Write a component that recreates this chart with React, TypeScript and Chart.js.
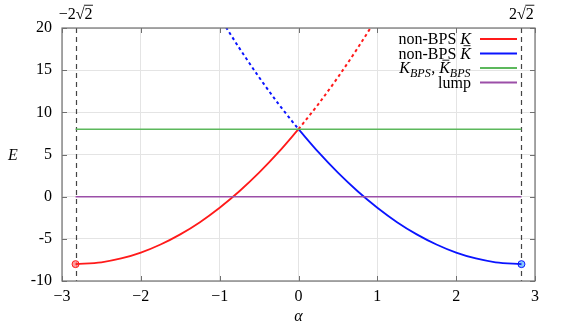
import React, { useEffect, useRef } from "react";
import { Chart, registerables } from "chart.js";

Chart.register(...registerables);

// ---- data ----
const redSolidAlpha = [-2.828, -2.5, -2.25, -2, -1.75, -1.5, -1.25, -1, -0.75, -0.5, -0.25, 0];
const redSolidE = [-8.0, -7.78, -7.33, -6.63, -5.67, -4.47, -3.02, -1.31, 0.64, 2.84, 5.3, 8.0];
const redDashAlpha = [0, 0.25, 0.5, 0.75, 0.92];
const redDashE = [8.0, 10.95, 14.16, 17.61, 20.1];
const blueSolidAlpha = [0, 0.25, 0.5, 0.75, 1, 1.25, 1.5, 1.75, 2, 2.25, 2.5, 2.828];
const blueSolidE = [8.0, 5.3, 2.84, 0.64, -1.31, -3.02, -4.47, -5.67, -6.63, -7.33, -7.78, -8.0];
const blueDashAlpha = [-0.92, -0.75, -0.5, -0.25, 0];
const blueDashE = [20.1, 17.61, 14.16, 10.95, 8.0];
const flatAlpha = [-2.828, 2.828];
const bpsE = [8, 8];
const lumpE = [0, 0];
const endPointsAlpha = [-2.828, 2.828];
const endPointsE = [-8, -8];
const markerAlpha = [-2.828, 2.828];
const xTickValues = [-3, -2, -1, 0, 1, 2, 3];
const yTickValues = [-10, -5, 0, 5, 10, 15, 20];

const RED = "#ff1a1a";
const BLUE = "#0a14ff";
const GREEN = "#5cb85c";
const PURPLE = "#9b4fa8";
const FONT = "'Liberation Serif', 'DejaVu Serif', serif";
const FS = 16;

const pts = (xs: number[], ys: number[]) => xs.map((x, i) => ({ x, y: ys[i] }));

type Seg = { t: string; it?: boolean; sub?: boolean; bar?: boolean };

function segFont(s: Seg, size: number) {
  const sz = s.sub ? size * 0.75 : size;
  return `${s.it ? "italic " : ""}${sz}px ${FONT}`;
}

function drawSegsRight(ctx: CanvasRenderingContext2D, segs: Seg[], rightX: number, baseline: number, size: number) {
  let total = 0;
  const widths = segs.map((s) => {
    ctx.font = segFont(s, size);
    const w = ctx.measureText(s.t).width + (s.sub ? 0.5 : 0);
    total += w;
    return w;
  });
  let x = rightX - total;
  segs.forEach((s, i) => {
    ctx.font = segFont(s, size);
    const by = s.sub ? baseline + size * 0.22 : baseline;
    ctx.fillText(s.t, x, by);
    if (s.bar) {
      ctx.beginPath();
      ctx.lineWidth = 0.9;
      ctx.moveTo(x + widths[i] * 0.3, baseline - size * 0.8);
      ctx.lineTo(x + widths[i] * 0.95, baseline - size * 0.8);
      ctx.stroke();
    }
    x += widths[i];
  });
}

function drawRadical(ctx: CanvasRenderingContext2D, prefix: string, cx: number, baseline: number, size: number) {
  ctx.font = `${size}px ${FONT}`;
  const wp = ctx.measureText(prefix).width;
  const ws = ctx.measureText("\u221A").width;
  const wr = ctx.measureText("2").width;
  const total = wp + ws + wr;
  let x = cx - total / 2;
  ctx.textAlign = "left";
  ctx.fillText(prefix, x, baseline);
  x += wp;
  ctx.fillText("\u221A", x, baseline);
  const topY = baseline - size * 0.86;
  ctx.beginPath();
  ctx.lineWidth = 0.9;
  ctx.moveTo(x + ws - 0.5, topY);
  ctx.lineTo(x + ws + wr + 0.5, topY);
  ctx.stroke();
  x += ws;
  ctx.fillText("2", x, baseline);
}

const legendRows: { segs: Seg[]; color: string }[] = [
  { segs: [{ t: "non-BPS " }, { t: "K", it: true }], color: RED },
  { segs: [{ t: "non-BPS " }, { t: "K", it: true, bar: true }], color: BLUE },
  {
    segs: [
      { t: "K", it: true },
      { t: "BPS", it: true, sub: true },
      { t: ", " },
      { t: "K", it: true, bar: true },
      { t: "BPS", it: true, sub: true },
    ],
    color: GREEN,
  },
  { segs: [{ t: "lump" }], color: PURPLE },
];

const decorPlugin = {
  id: "decor",
  beforeDatasetsDraw(chart: any) {
    const { ctx, chartArea, scales } = chart;
    ctx.save();
    ctx.strokeStyle = "#444";
    ctx.lineWidth = 1.2;
    ctx.setLineDash([5, 4]);
    markerAlpha.forEach((a) => {
      const px = Math.round(scales.x.getPixelForValue(a)) + 0.5;
      ctx.beginPath();
      ctx.moveTo(px, chartArea.top);
      ctx.lineTo(px, chartArea.bottom);
      ctx.stroke();
    });
    ctx.restore();
  },
  afterDraw(chart: any) {
    const { ctx, chartArea, scales } = chart;
    const { left, right, top, bottom } = chartArea;
    ctx.save();
    // frame
    ctx.strokeStyle = "#707070";
    ctx.lineWidth = 1.2;
    ctx.strokeRect(left, top, right - left, bottom - top);
    // inward ticks
    ctx.lineWidth = 1;
    xTickValues.forEach((v) => {
      const px = Math.round(scales.x.getPixelForValue(v)) + 0.5;
      ctx.beginPath();
      ctx.moveTo(px, bottom);
      ctx.lineTo(px, bottom - 5);
      ctx.moveTo(px, top);
      ctx.lineTo(px, top + 5);
      ctx.stroke();
    });
    yTickValues.forEach((v) => {
      const py = Math.round(scales.y.getPixelForValue(v)) + 0.5;
      ctx.beginPath();
      ctx.moveTo(left, py);
      ctx.lineTo(left + 5, py);
      ctx.moveTo(right, py);
      ctx.lineTo(right - 5, py);
      ctx.stroke();
    });
    // top labels
    ctx.fillStyle = "#000";
    ctx.strokeStyle = "#000";
    ctx.textBaseline = "alphabetic";
    drawRadical(ctx, "\u22122", scales.x.getPixelForValue(markerAlpha[0]), 19, FS);
    drawRadical(ctx, "2", scales.x.getPixelForValue(markerAlpha[1]), 19, FS);
    // axis titles
    ctx.font = `italic ${FS}px ${FONT}`;
    ctx.textAlign = "center";
    ctx.fillText("\u03B1", (left + right) / 2, 321);
    ctx.fillText("E", 13, (top + bottom) / 2 + 5);
    // legend
    ctx.textAlign = "left";
    const rowY = [39, 53.5, 68, 82.5];
    legendRows.forEach((r, i) => {
      ctx.fillStyle = "#000";
      ctx.strokeStyle = "#000";
      drawSegsRight(ctx, r.segs, 471, rowY[i] + 5, FS);
      ctx.strokeStyle = r.color;
      ctx.lineWidth = 2;
      ctx.beginPath();
      ctx.moveTo(480, rowY[i]);
      ctx.lineTo(517, rowY[i]);
      ctx.stroke();
    });
    ctx.restore();
  },
};

export default function App() {
  const ref = useRef<HTMLCanvasElement | null>(null);
  useEffect(() => {
    if (!ref.current) return;
    const lineDs = (data: any[], color: string, dash: number[] = [], width = 1.8) => ({
      data,
      showLine: true,
      borderColor: color,
      backgroundColor: color,
      borderWidth: width,
      borderDash: dash,
      pointRadius: 0,
      cubicInterpolationMode: "monotone",
    });
    const chart = new Chart(ref.current, {
      type: "scatter",
      data: {
        datasets: [
          lineDs(pts(flatAlpha, lumpE), PURPLE, [], 1.5) as any,
          lineDs(pts(flatAlpha, bpsE), GREEN, [], 1.5) as any,
          lineDs(pts(redDashAlpha, redDashE), RED, [3, 3], 2) as any,
          lineDs(pts(blueDashAlpha, blueDashE), BLUE, [3, 3], 2) as any,
          lineDs(pts(redSolidAlpha, redSolidE), RED) as any,
          lineDs(pts(blueSolidAlpha, blueSolidE), BLUE) as any,
          {
            data: [{ x: endPointsAlpha[0], y: endPointsE[0] }],
            pointRadius: 3.5,
            pointBackgroundColor: "rgba(255,140,140,0.85)",
            pointBorderColor: RED,
            pointBorderWidth: 1,
            showLine: false,
          },
          {
            data: [{ x: endPointsAlpha[1], y: endPointsE[1] }],
            pointRadius: 3.5,
            pointBackgroundColor: "rgba(130,200,255,0.95)",
            pointBorderColor: BLUE,
            pointBorderWidth: 1,
            showLine: false,
          },
        ],
      },
      options: {
        responsive: false,
        animation: false,
        layout: { padding: { top: 28, right: 26, left: 0, bottom: 0 } },
        plugins: { legend: { display: false }, tooltip: { enabled: false } },
        scales: {
          x: {
            type: "linear",
            min: -3,
            max: 3,
            afterFit: (s: any) => {
              s.height = 46;
            },
            afterBuildTicks: (s: any) => {
              s.ticks = xTickValues.map((v) => ({ value: v }));
            },
            ticks: {
              padding: 6,
              color: "#000",
              font: { family: FONT, size: FS },
              callback: (v: any) => (Number(v) < 0 ? "\u2212" + Math.abs(Number(v)) : String(v)),
            },
            grid: { color: "#e4e4e4", drawTicks: false, lineWidth: 1 },
            border: { display: false },
          },
          y: {
            type: "linear",
            min: -10,
            max: 20,
            afterFit: (s: any) => {
              s.width = 62;
            },
            afterBuildTicks: (s: any) => {
              s.ticks = yTickValues.map((v) => ({ value: v }));
            },
            ticks: {
              padding: 10,
              color: "#000",
              font: { family: FONT, size: FS },
              callback: (v: any) => String(v),
            },
            grid: { color: "#e4e4e4", drawTicks: false, lineWidth: 1 },
            border: { display: false },
          },
        },
      } as any,
      plugins: [decorPlugin],
    });
    return () => chart.destroy();
  }, []);
  return (
    <div style={{ position: "absolute", left: 0, top: 0, width: 561, height: 327, background: "#fff" }}>
      <canvas ref={ref} width={561} height={327} />
    </div>
  );
}
